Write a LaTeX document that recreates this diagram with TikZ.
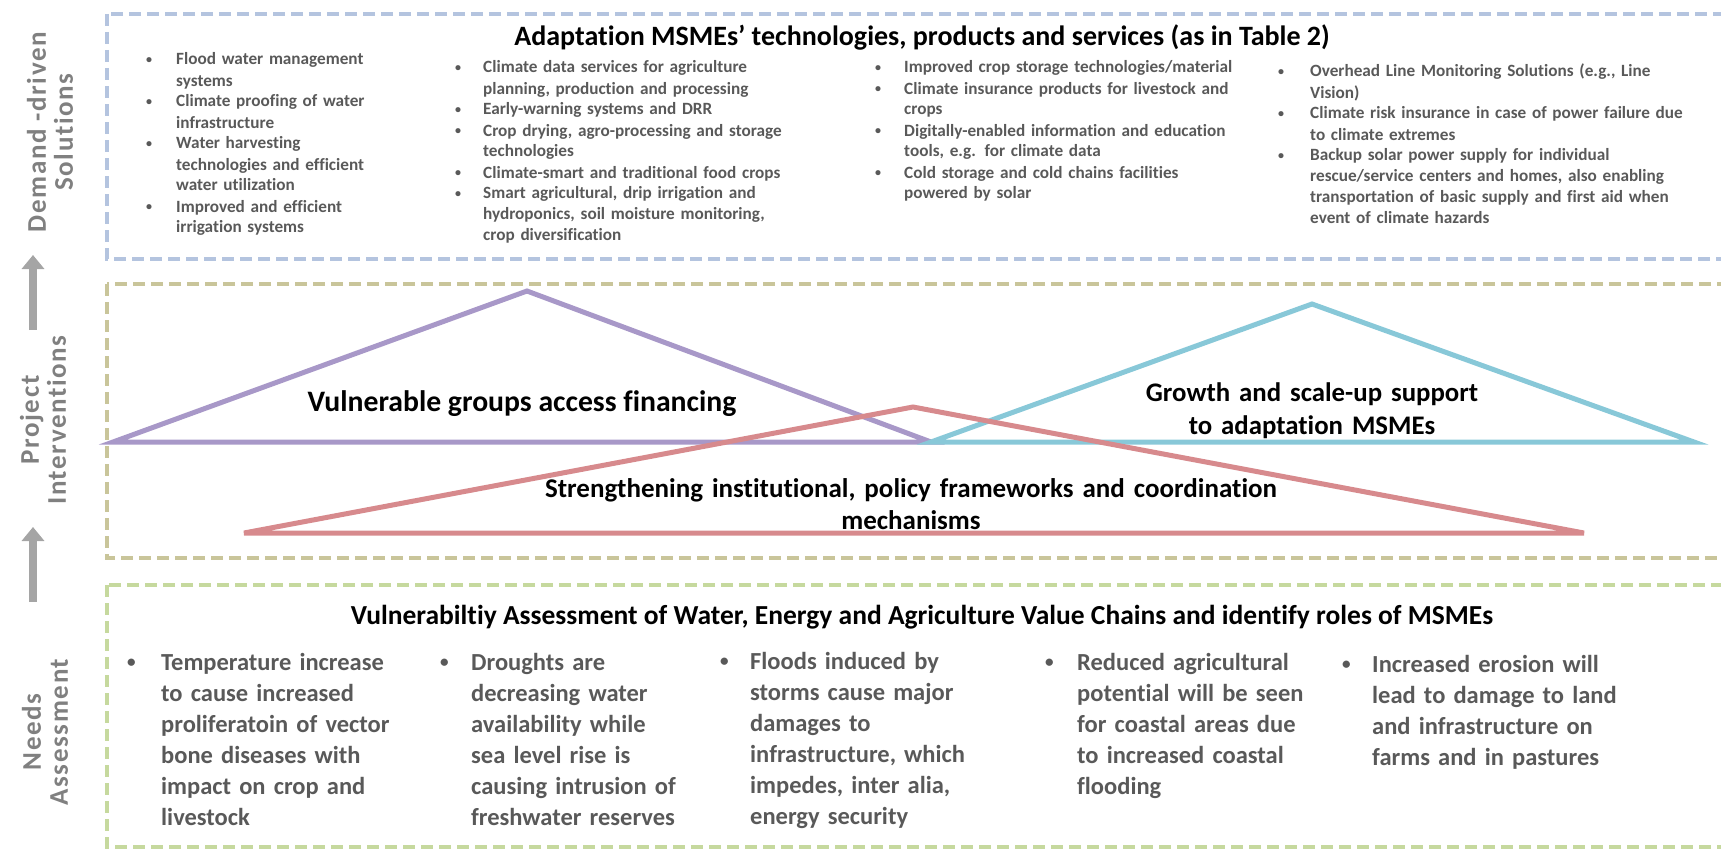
\documentclass[tikz,border=0pt]{standalone}
\usepackage{fontspec}
\usepackage{graphicx}
\setmainfont{Carlito}[Ligatures=NoCommon]
\usetikzlibrary{arrows.meta}
\definecolor{boxblue}{HTML}{B4C4DF}
\definecolor{boxkhaki}{HTML}{C9C59A}
\definecolor{boxgreen}{HTML}{C6D99E}
\definecolor{tpurple}{HTML}{A898C8}
\definecolor{tcyan}{HTML}{88C8D8}
\definecolor{tred}{HTML}{D78A8D}
\definecolor{txtgray}{HTML}{595959}
\definecolor{lblgray}{HTML}{808080}
\definecolor{arrgray}{HTML}{A5A5A5}
\newcommand{\bu}[1]{\makebox[#1][l]{\raisebox{0.2ex}{\scalebox{0.7}{•}}}}
\newcommand{\cu}[1]{\hspace*{#1}}
\begin{document}
\begin{tikzpicture}[x=1pt,y=-1pt,
  dbox/.style={line width=3.5pt, dash pattern=on 12pt off 6pt},
  tri/.style={line width=5pt, line join=miter},
  lbl/.style={rotate=90, align=center, text=lblgray, font=\bfseries\fontsize{27}{27}\selectfont\addfontfeature{LetterSpace=6}, inner sep=0pt},
  hd/.style={font=\bfseries\fontsize{28}{33}\selectfont, inner sep=0pt, anchor=base},
  tlist/.style={font=\bfseries\fontsize{17.2}{21}\selectfont, text=txtgray, text width=420pt, align=left, inner sep=0pt, anchor=base west},
  blist/.style={font=\bfseries\fontsize{24.5}{31}\selectfont, text=txtgray, text width=320pt, align=left, inner sep=0pt, anchor=base west},
  uparr/.style={draw=arrgray, line width=8pt, -{Triangle[width=22pt,length=14pt]}}]
\useasboundingbox (0,0) rectangle (1721,851);
\clip (0,0) rectangle (1721,851);

% dashed section boxes
\draw[dbox, boxblue] (107,14) rectangle (1760,259);
\draw[dbox, boxkhaki] (107,284) rectangle (1760,558);
\draw[dbox, boxgreen] (107,585) rectangle (1760,847);

% left labels
\node[lbl] (lab1) at (50,132) {Demand -driven\\Solutions};
\node[lbl] (lab2) at (43,420) {Project\\Interventions};
\node[lbl] (lab3) at (45,732) {Needs\\Assessment};

% arrows
\coordinate (a1s) at (33,330);
\coordinate (a1e) at (33,255);
\coordinate (a2s) at (33,602);
\coordinate (a2e) at (33,527);
\draw[uparr] (a1s) -- (a1e);
\draw[uparr] (a2s) -- (a2e);

% top section
\node[hd] (toptitle) at (922,46) {Adaptation MSMEs’ technologies, products and services (as in Table 2)};
\node[tlist] (tc1) at (146,65) {%
\bu{30pt}Flood water management\\\cu{30pt}systems\\
\bu{30pt}Climate proofing of water\\\cu{30pt}infrastructure\\
\bu{30pt}Water harvesting\\\cu{30pt}technologies and efficient\\\cu{30pt}water utilization\\
\bu{30pt}Improved and efficient\\\cu{30pt}irrigation systems};
\node[tlist] (tc2) at (455,73) {%
\bu{28pt}Climate data services for agriculture\\\cu{28pt}planning, production and processing\\
\bu{28pt}Early-warning systems and DRR\\
\bu{28pt}Crop drying, agro-processing and storage\\\cu{28pt}technologies\\
\bu{28pt}Climate-smart and traditional food crops\\
\bu{28pt}Smart agricultural, drip irrigation and\\\cu{28pt}hydroponics, soil moisture monitoring,\\\cu{28pt}crop diversification};
\node[tlist] (tc3) at (875,73) {%
\bu{29pt}Improved crop storage technologies/material\\
\bu{29pt}Climate insurance products for livestock and\\\cu{29pt}crops\\
\bu{29pt}Digitally-enabled information and education\\\cu{29pt}tools, e.g. for climate data\\
\bu{29pt}Cold storage and cold chains facilities\\\cu{29pt}powered by solar};
\node[tlist] (tc4) at (1278,77) {%
\bu{32pt}Overhead Line Monitoring Solutions (e.g., Line\\\cu{32pt}Vision)\\
\bu{32pt}Climate risk insurance in case of power failure due\\\cu{32pt}to climate extremes\\
\bu{32pt}Backup solar power supply for individual\\\cu{32pt}rescue/service centers and homes, also enabling\\\cu{32pt}transportation of basic supply and first aid when\\\cu{32pt}event of climate hazards};

% middle section triangles
\coordinate (pL) at (113,442);
\coordinate (pT) at (527,291);
\coordinate (pR) at (931,442);
\coordinate (cL) at (931,442);
\coordinate (cT) at (1312,304);
\coordinate (cR) at (1694,442);
\coordinate (rL) at (244,533);
\coordinate (rT) at (913,407);
\coordinate (rR) at (1584,533);
\draw[tri, tpurple] (pL) -- (pT) -- (pR) -- cycle;
\draw[tri, tcyan] (cL) -- (cT) -- (cR) -- cycle;
\draw[tri, tred] (rL) -- (rT) -- (rR) -- cycle;

\node[hd, font=\bfseries\fontsize{29.7}{33}\selectfont] (vgaf) at (522,411) {Vulnerable groups access financing};
\node[hd, font=\bfseries\fontsize{26.8}{33}\selectfont, text width=420pt, align=center] (gsu) at (1312,401) {Growth and scale-up support\\to adaptation MSMEs};
\node[hd, font=\bfseries\fontsize{27}{32}\selectfont, text width=800pt, align=center] (sip) at (911,497) {Strengthening institutional, policy frameworks and coordination\\mechanisms};

% bottom section
\node[hd, font=\bfseries\fontsize{27.5}{33}\selectfont] (bottitle) at (922,624) {Vulnerabiltiy Assessment of Water, Energy and Agriculture Value Chains and identify roles of MSMEs};
\node[blist] (bc1) at (127,670) {\bu{34pt}Temperature increase\\\cu{34pt}to cause increased\\\cu{34pt}proliferatoin of vector\\\cu{34pt}bone diseases with\\\cu{34pt}impact on crop and\\\cu{34pt}livestock};
\node[blist] (bc2) at (440,670) {\bu{31pt}Droughts are\\\cu{31pt}decreasing water\\\cu{31pt}availability while\\\cu{31pt}sea level rise is\\\cu{31pt}causing intrusion of\\\cu{31pt}freshwater reserves};
\node[blist] (bc3) at (720,669) {\bu{30pt}Floods induced by\\\cu{30pt}storms cause major\\\cu{30pt}damages to\\\cu{30pt}infrastructure, which\\\cu{30pt}impedes, inter alia,\\\cu{30pt}energy security};
\node[blist] (bc4) at (1045,670) {\bu{32pt}Reduced agricultural\\\cu{32pt}potential will be seen\\\cu{32pt}for coastal areas due\\\cu{32pt}to increased coastal\\\cu{32pt}flooding};
\node[blist] (bc5) at (1342,672) {\bu{30pt}Increased erosion will\\\cu{30pt}lead to damage to land\\\cu{30pt}and infrastructure on\\\cu{30pt}farms and in pastures};
\end{tikzpicture}
\end{document}
